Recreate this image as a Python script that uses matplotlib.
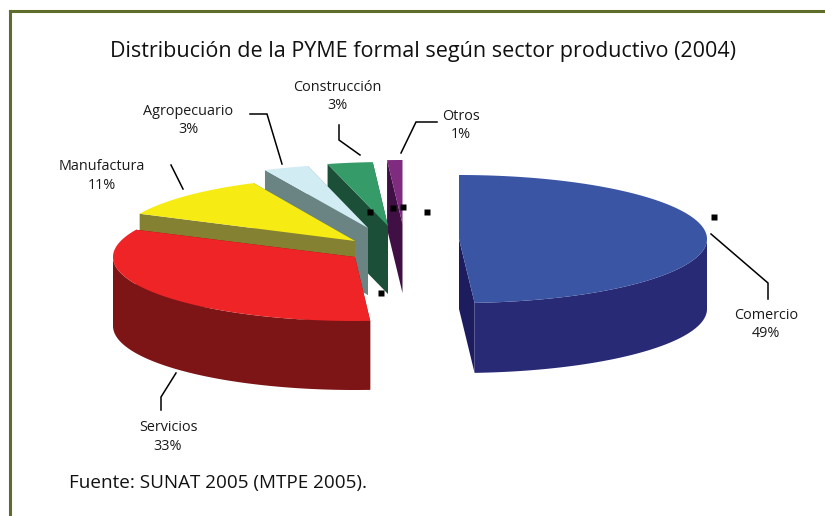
import numpy as np
import matplotlib
matplotlib.use("Agg")
import matplotlib.pyplot as plt
from matplotlib.patches import Polygon

# --- data
categories = ["Comercio", "Servicios", "Manufactura", "Agropecuario", "Construcción", "Otros"]
values = [49, 33, 11, 3, 3, 1]
title = "Distribución de la PYME formal según sector productivo (2004)"
source = "Fuente: SUNAT 2005 (MTPE 2005)."

# --- styles / layout (pixels)
top_colors = ["#3b55a5", "#ee2426", "#f6ec13", "#d1ecf3", "#349b69", "#7f2b80"]
side_colors = ["#282a75", "#7d1416", "#858132", "#6a8383", "#1b4f37", "#400f44"]
cut_colors = ["#1d1c5e", "#7d1416", "#858132", "#6a8383", "#1b4f37", "#400f44"]
apex = [(459, 239), (355, 257), (355, 241), (368, 228), (388, 226), (402.5, 224)]
depths = [70, 69, 68, 67, 68, 69]
radii_x = [248, 242, 238, 242, 243, 246]
RY = 64
label_pos = [(766, 324.5), (168, 437), (102, 176), (188.5, 120.5), (337.5, 96.5), (461, 125.5)]
leaders = [
    [(711, 234), (768, 283), (768, 299)],
    [(176, 373), (161, 397), (161, 410)],
    [(171, 165), (183, 189)],
    [(250, 114), (267, 114), (282, 164)],
    [(339, 125), (339, 140), (360, 155)],
    [(437, 122), (416, 122), (401, 153)],
]
handles = [(714, 217), (427, 212), (403, 207), (393, 208), (370, 212), (381, 293)]
FONT = "Open Sans"

fig = plt.figure(figsize=(8.25, 5.16), dpi=100)
ax = fig.add_axes([0, 0, 1, 1])
ax.set_xlim(0, 825)
ax.set_ylim(516, 0)
ax.axis("off")


def rim(a, b, c, rx):
    t = np.radians(np.linspace(a, b, max(int(b - a) * 2, 2) + 1))
    return np.column_stack([c[0] + rx * np.sin(t), c[1] - RY * np.cos(t)])


fracs = np.array(values, dtype=float) / sum(values) * 360
ends = np.cumsum(fracs)
starts = ends - fracs
z = 2
for i in [5, 4, 3, 2, 1, 0]:
    a, b, c, d, rx = starts[i], ends[i], apex[i], depths[i], radii_x[i]
    arc = rim(a, b, c, rx)
    for p in (arc[0], arc[-1]):
        quad = [c, p, (p[0], p[1] + d), (c[0], c[1] + d)]
        ax.add_patch(Polygon(quad, closed=True, fc=cut_colors[i], ec="none", zorder=z))
    lo, hi = max(a, 90), min(b, 270)
    if lo < hi:
        low = rim(lo, hi, c, rx)
        ax.add_patch(Polygon(np.vstack([low, (low + [0, d])[::-1]]), closed=True,
                             fc=side_colors[i], ec="none", zorder=z + 1))
    ax.add_patch(Polygon(np.vstack([[c], arc]), closed=True, fc=top_colors[i],
                         ec="none", zorder=z + 2))
    z += 3

# leaders, labels, handles
for pts in leaders:
    xs, ys = zip(*pts)
    ax.plot(xs, ys, color="black", lw=1.1, zorder=40, solid_joinstyle="miter")
for name, v, (x, y) in zip(categories, values, label_pos):
    ax.text(x, y, f"{name}\n{v}%", ha="center", va="center", fontsize=10.4,
            family=FONT, color="#1a1a1a", linespacing=1.3, zorder=41)
hx, hy = zip(*handles)
ax.plot(hx, hy, ls="none", marker="s", ms=4, color="black", mec="none", zorder=42)

# frame
ax.plot([9.5, 9.5], [516, 10.5], color="#5f6d2b", lw=2.2, solid_capstyle="projecting", zorder=1)
ax.plot([9.5, 825], [10.5, 10.5], color="#5f6d2b", lw=2.2, solid_capstyle="projecting", zorder=1)

ax.text(423, 51.5, title, ha="center", va="center", fontsize=15.5, family=FONT, color="#111111")
ax.text(69, 483, source, ha="left", va="center", fontsize=13.6, family=FONT, color="#111111")

fig.savefig("out.png", dpi=100)
